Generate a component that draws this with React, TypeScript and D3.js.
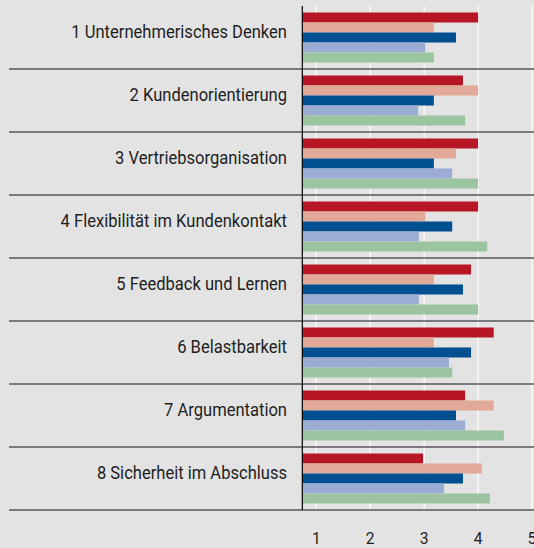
import React from "react";
import * as d3 from "d3";

const categories = [
  "1 Unternehmerisches Denken",
  "2 Kundenorientierung",
  "3 Vertriebsorganisation",
  "4 Flexibilität im Kundenkontakt",
  "5 Feedback und Lernen",
  "6 Belastbarkeit",
  "7 Argumentation",
  "8 Sicherheit im Abschluss",
];

const seriesNames = ["S1", "S2", "S3", "S4", "S5"];
const seriesColors = ["#b71725", "#e2a998", "#004f91", "#9badd5", "#9dc4a1"];

const s1 = [4.0, 3.72, 4.0, 4.0, 3.87, 4.29, 3.76, 2.98];
const s2 = [3.18, 4.0, 3.59, 3.02, 3.18, 3.18, 4.29, 4.07];
const s3 = [3.59, 3.18, 3.18, 3.52, 3.72, 3.87, 3.59, 3.72];
const s4 = [3.02, 2.89, 3.52, 2.9, 2.9, 3.46, 3.76, 3.37];
const s5 = [3.18, 3.76, 4.0, 4.17, 4.0, 3.52, 4.48, 4.22];
const seriesValues = [s1, s2, s3, s4, s5];

const tickValues = [1, 2, 3, 4, 5];
const axisMin = 0.74;
const axisMax = 5;

const W = 534;
const H = 548;

export default function App() {
  const x = d3.scaleLinear().domain([axisMin, axisMax]).range([302.3, 532]);
  const y = d3.scaleBand<string>().domain(categories).range([6, 510]).paddingInner(0).paddingOuter(0);
  const inner = d3
    .scaleBand<string>()
    .domain(seriesNames)
    .range([0, y.bandwidth()])
    .paddingInner(0)
    .paddingOuter(0.65);
  const bottom = y.range()[1];
  const top = y.range()[0];

  return (
    <svg
      width={W}
      height={H}
      style={{ position: "absolute", left: 0, top: 0, background: "#e3e3e3" }}
      fontFamily="Roboto, sans-serif"
    >
      <rect x={0} y={0} width={W} height={H} fill="#e3e3e3" />
      {tickValues.map((t) => (
        <line key={"g" + t} x1={x(t)} x2={x(t)} y1={top} y2={bottom} stroke="#ffffff" strokeWidth={1.2} />
      ))}
      {categories.map((c, ci) => (
        <g key={c} transform={`translate(0,${y(c)})`}>
          {seriesValues.map((vals, si) => (
            <rect
              key={si}
              x={x(axisMin)}
              y={inner(seriesNames[si])}
              width={x(vals[ci]) - x(axisMin)}
              height={inner.bandwidth()}
              fill={seriesColors[si]}
            />
          ))}
          <text
            transform="translate(287,31.6) scale(0.92,1)"
            textAnchor="end"
            fontSize={18}
            fill="#1e1e1e"
          >
            {c}
          </text>
          <line x1={9} x2={W} y1={y.bandwidth()} y2={y.bandwidth()} stroke="#575757" strokeWidth={1.7} />
        </g>
      ))}
      <line x1={x(axisMin)} x2={x(axisMin)} y1={top} y2={bottom} stroke="#000" strokeWidth={1.2} />
      {tickValues.map((t) => (
        <text
          key={"t" + t}
          transform={`translate(${x(t)},544) scale(0.92,1)`}
          textAnchor="middle"
          fontSize={17}
          fill="#1e1e1e"
        >
          {t}
        </text>
      ))}
    </svg>
  );
}
